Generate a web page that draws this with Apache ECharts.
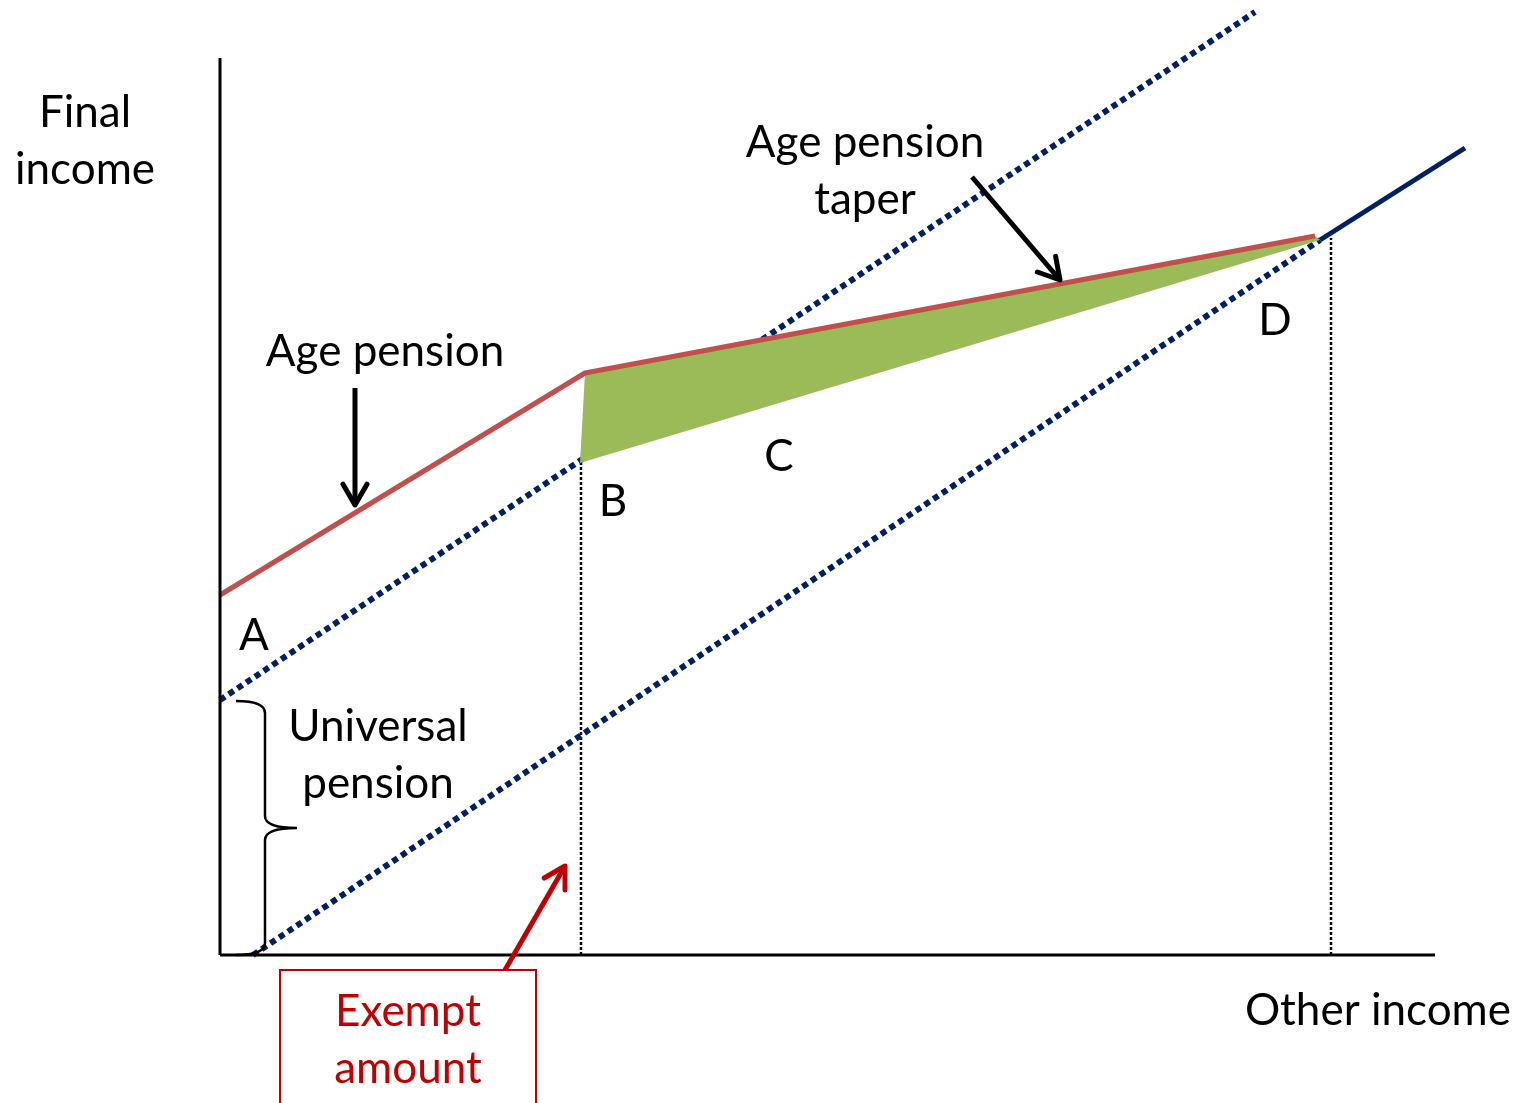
<!DOCTYPE html>
<html><head><meta charset="utf-8">
<script src="https://cdn.jsdelivr.net/npm/echarts@6/dist/echarts.min.js"></script>
<style>html,body{margin:0;padding:0;background:#fff}#c{width:1519px;height:1103px}</style>
</head><body><div id="c"></div>
<script>
// Data coordinates: origin at the axes crossing
const yAxisLine = [[0,0],[0,897]];
const xAxisLine = [[0,0],[1215,0]];
const agePensionLine = [[0,360],[365,582],[1095,719]];
const universalPensionLine = [[0,255],[1035,943]];
const noPensionLine = [[33,0],[1100,715]];
const aboveTaperLine = [[1100,715],[1245,807]];
const taperArea = [[365,582],[1095,719],[1100,715],[360,492]];
const thresholdB = [[361,0],[361,492]];
const thresholdD = [[1111,0],[1111,717]];
const braceShape = [[16,254],[45,127],[77,127],[16,0]]; // top, spine x, tip, bottom
const exemptBox = [[60,-15],[316,-170]];
const labelTexts = ['Final\nincome','Age pension','Age pension\ntaper','A','B','C','D','Universal\npension','Exempt\namount','Other income'];
const labelPos = [[-135,814],[165,603],[645,784],[34,319],[393,453],[559,498],[1055,634],[158,200],[188,-85],[1158,-56]];
const labelColor = ['#000','#000','#000','#000','#000','#000','#000','#000','#C00000','#000'];
const arrowFrom = [[135,567],[752,778],[285,-15]];
const arrowTo = [[135,450],[840,675],[345,89]];
const arrowColor = ['#000','#000','#C00000'];

const FONT = 'Lato, "Noto Sans", sans-serif';
const chart = echarts.init(document.getElementById('c'));

function lineSeries(data, color, width, dash, z){
  return {type:'line', data:data, showSymbol:false, symbol:'none', z:z||2, silent:true,
    lineStyle:{color:color, width:width, type:dash||'solid', cap:'butt'}, animation:false};
}

chart.setOption({
  animation:false,
  grid:{left:0,right:0,top:0,bottom:0},
  xAxis:{type:'value',min:-220,max:1299,show:false},
  yAxis:{type:'value',min:-148,max:955,show:false},
  series:[
    lineSeries(thresholdB,'#000',2.5,[3,2],1),
    lineSeries(thresholdD,'#000',2.5,[3,2],1),
    lineSeries(universalPensionLine,'#002060',6,[6,4.5],2),
    lineSeries(noPensionLine,'#002060',6,[6,4.5],2),
    {type:'custom', z:3, silent:true, data:[0],
      renderItem:function(params, api){
        const pts = taperArea.map(p=>api.coord(p));
        return {type:'polygon', shape:{points:pts}, style:{fill:'#9BBB59', stroke:null}};
      }},
    lineSeries(agePensionLine,'#C0504D',5,'solid',4),
    lineSeries(aboveTaperLine,'#002060',5,'solid',4),
    lineSeries(yAxisLine,'#000',3,'solid',5),
    lineSeries(xAxisLine,'#000',3,'solid',5),
    {type:'custom', z:6, silent:true, data:[0],
      renderItem:function(params, api){
        const t = api.coord(braceShape[0]);
        const s = api.coord(braceShape[1]);
        const tip = api.coord(braceShape[2]);
        const b = api.coord(braceShape[3]);
        const r = 12;
        const d = 'M'+t[0]+' '+t[1]+
          ' Q'+s[0]+' '+t[1]+' '+s[0]+' '+(t[1]+r)+
          ' L'+s[0]+' '+(tip[1]-r)+
          ' Q'+s[0]+' '+tip[1]+' '+tip[0]+' '+tip[1]+
          ' Q'+s[0]+' '+tip[1]+' '+s[0]+' '+(tip[1]+r)+
          ' L'+s[0]+' '+(b[1]-r)+
          ' Q'+s[0]+' '+b[1]+' '+b[0]+' '+b[1];
        return {type:'path', shape:{pathData:d}, style:{fill:null, stroke:'#000', lineWidth:2.5}};
      }},
    {type:'custom', z:6, silent:true, data:[0],
      renderItem:function(params, api){
        const a = api.coord(exemptBox[0]), b = api.coord(exemptBox[1]);
        return {type:'rect', shape:{x:a[0], y:a[1], width:b[0]-a[0], height:b[1]-a[1]},
          style:{fill:null, stroke:'#C00000', lineWidth:2}};
      }},
    {type:'custom', z:7, silent:true, data:arrowFrom.map((p,i)=>i),
      renderItem:function(params, api){
        const i = params.dataIndex;
        const p1 = api.coord(arrowFrom[i]), p2 = api.coord(arrowTo[i]);
        const ang = Math.atan2(p2[1]-p1[1], p2[0]-p1[0]);
        const L = 24, sp = Math.PI/6;
        const h1 = [p2[0]-L*Math.cos(ang-sp), p2[1]-L*Math.sin(ang-sp)];
        const h2 = [p2[0]-L*Math.cos(ang+sp), p2[1]-L*Math.sin(ang+sp)];
        const st = {fill:null, stroke:arrowColor[i], lineWidth:5, lineCap:'round', lineJoin:'round'};
        return {type:'group', children:[
          {type:'line', shape:{x1:p1[0],y1:p1[1],x2:p2[0],y2:p2[1]}, style:Object.assign({},st,{lineCap:'butt'})},
          {type:'polyline', shape:{points:[h1,p2,h2]}, style:st}
        ]};
      }},
    {type:'custom', z:8, silent:true, data:labelTexts.map((t,i)=>i),
      renderItem:function(params, api){
        const i = params.dataIndex;
        const p = api.coord(labelPos[i]);
        return {type:'text', x:p[0], y:p[1], style:{text:labelTexts[i], fill:labelColor[i],
          font:'44px '+FONT, align:'center', verticalAlign:'middle', lineHeight:57}};
      }}
  ]
});
</script></body></html>
